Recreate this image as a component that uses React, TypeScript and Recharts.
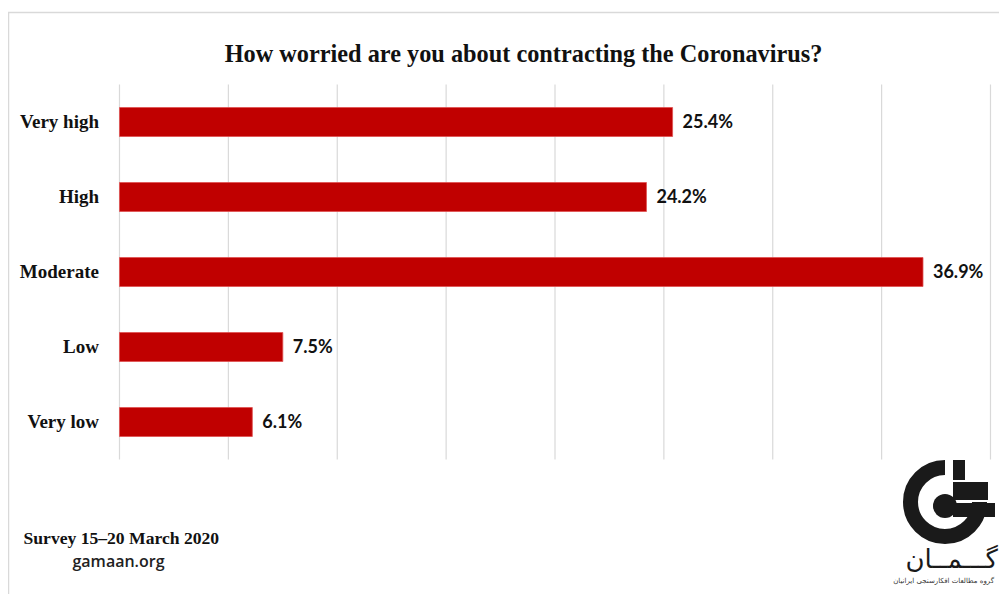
import React from "react";
import { BarChart, Bar, XAxis, YAxis, CartesianGrid, LabelList } from "recharts";

const categories = ["Very high", "High", "Moderate", "Low", "Very low"];
const values = [25.4, 24.2, 36.9, 7.5, 6.1];
const xTicks = [0, 5, 10, 15, 20, 25, 30, 35, 40];
const title = "How worried are you about contracting the Coronavirus?";
const footerLines = ["Survey 15\u201320 March 2020", "gamaan.org"];

const data = categories.map((name, i) => ({ name, value: values[i] }));

const SERIF = "'Liberation Serif', 'DejaVu Serif', serif";
const SANS = "Lato, 'Open Sans', sans-serif";

const YTick = (props: any) => {
  const { x, y, payload } = props;
  return (
    <text x={x - 20.5} y={y} dy={6} textAnchor="end" fontFamily={SERIF} fontWeight={700} fontSize={19} fill="#111">
      {payload.value}
    </text>
  );
};

const Logo = () => {
  const cx = 945;
  const cy = 502;
  const R = 42;
  const t = 15;
  const rm = R - t / 2;
  const arcPath = `M ${cx + rm} ${cy} A ${rm} ${rm} 0 1 1 ${cx} ${cy - rm}`;
  return (
    <g>
      <path d={arcPath} fill="none" stroke="#1a1a1a" strokeWidth={t} />
      <circle cx={cx} cy={cy + 4} r={12} fill="#1a1a1a" />
      <rect x={cx + 8} y={cy - R} width={12} height={20} fill="#1a1a1a" />
      <rect x={cx + 8} y={cy - R + 22} width={35} height={18} fill="#1a1a1a" />
      <rect x={cx + 8} y={cy + 1} width={42} height={14} fill="#1a1a1a" />
      <text x={998} y={568} textAnchor="end" fontFamily="'DejaVu Sans', sans-serif" fontSize={26} fill="#1a1a1a">
        {"\u06AF\u0640\u0640\u0640\u0645\u0640\u0640\u0627\u0646"}
      </text>
      <text x={994} y={583} textAnchor="end" fontFamily="'DejaVu Sans', sans-serif" fontSize={7} fill="#333">
        {"\u06AF\u0631\u0648\u0647 \u0645\u0637\u0627\u0644\u0639\u0627\u062A \u0627\u0641\u06A9\u0627\u0631\u0633\u0646\u062C\u06CC \u0627\u06CC\u0631\u0627\u0646\u06CC\u0627\u0646"}
      </text>
    </g>
  );
};

export default function App() {
  return (
    <div style={{ position: "relative", width: 999, height: 586, background: "#fff" }}>
      <BarChart
        width={999}
        height={586}
        data={data}
        layout="vertical"
        margin={{ top: 76.5, right: 16.5, bottom: 134.5, left: 11.5 }}
        barSize={29}
      >
        <CartesianGrid horizontal={false} vertical={true} stroke="#d9d9d9" strokeWidth={1.2} />
        <XAxis type="number" domain={[0, 40]} ticks={xTicks} hide />
        <YAxis
          type="category"
          dataKey="name"
          width={100}
          axisLine={false}
          tickLine={false}
          tickSize={0}
          tickMargin={0}
          tick={<YTick />}
          interval={0}
        />
        <Bar dataKey="value" fill="#c00000" stroke="#e05050" strokeWidth={0.8} isAnimationActive={false}>
          <LabelList
            dataKey="value"
            position="right"
            offset={10}
            formatter={(v: any) => `${Number(v).toFixed(1)}%`}
            fontFamily={SANS}
            fontWeight={700}
            fontSize={18}
            fill="#111"
          />
        </Bar>
      </BarChart>
      <svg
        width={999}
        height={586}
        style={{ position: "absolute", left: 0, top: 0, pointerEvents: "none" }}
      >
        <rect x={0.5} y={4.5} width={996} height={600} fill="none" stroke="#d9d9d9" strokeWidth={1.5} />
        <text x={515.5} y={54} textAnchor="middle" fontFamily={SERIF} fontWeight={700} fontSize={24.3} fill="#111">
          {title}
        </text>
        <text x={15.5} y={535.5} fontFamily={SERIF} fontWeight={700} fontSize={17.6} fill="#111">
          {footerLines[0]}
        </text>
        <text x={110.5} y={558.5} textAnchor="middle" fontFamily="'Open Sans', sans-serif" fontWeight={600} fontSize={16} fill="#222">
          {footerLines[1]}
        </text>
        <g transform="translate(-8,-8)">
          <Logo />
        </g>
      </svg>
    </div>
  );
}
